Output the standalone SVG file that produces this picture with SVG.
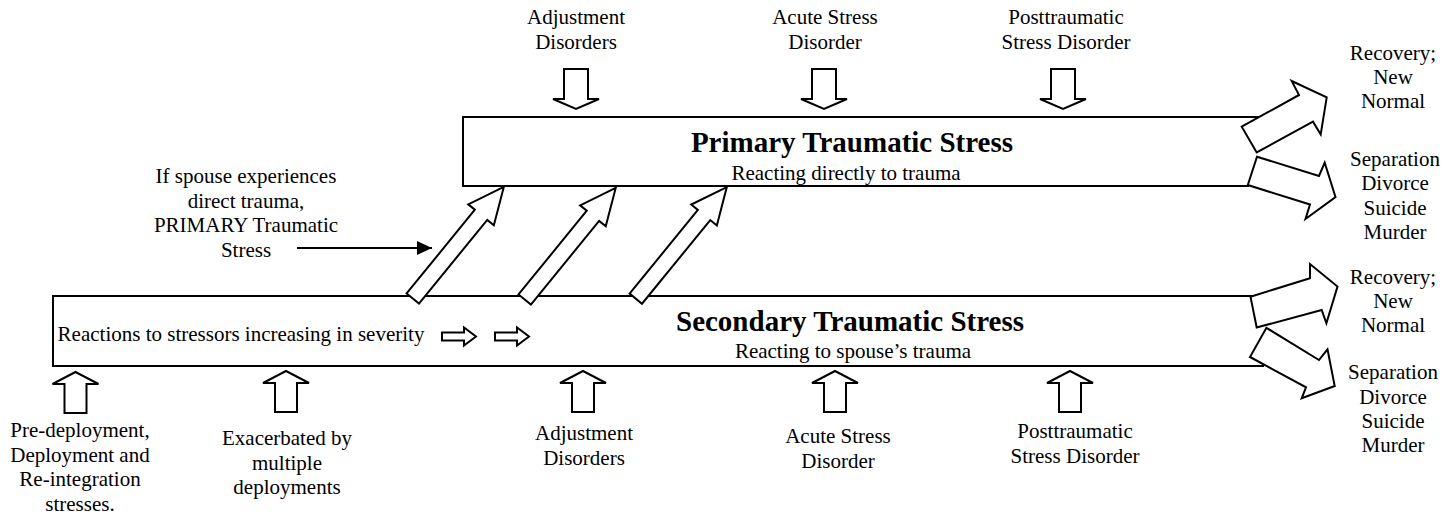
<svg xmlns="http://www.w3.org/2000/svg" width="1456" height="521" viewBox="0 0 1456 521">
<style>
text{font-family:"Liberation Serif","Times New Roman",serif;font-size:21px;fill:#000;text-anchor:middle}
.title{font-size:29px;font-weight:bold}
.box{fill:none;stroke:#000;stroke-width:2}
.blk{fill:#fff;stroke:#000;stroke-width:2;stroke-linejoin:miter}
.ln{stroke:#000;stroke-width:2;fill:none}
</style>
<defs>
<marker id="tri" markerWidth="15" markerHeight="14" refX="15" refY="7" orient="auto" markerUnits="userSpaceOnUse" viewBox="0 0 15 14">
<path d="M0,0 L15,7 L0,14 Z" fill="#000"/>
</marker>
<polygon id="diag" points="0,-8 108,-8 108,-16.5 144,0 108,16.5 108,8 0,8"/>
<polygon id="down" points="-12,0 12,0 12,30 23,30 0,40 -23,30 -12,30"/>
<polygon id="up" points="0,0 23,12 11,12 11,41 -11,41 -11,12 -23,12"/>
<polygon id="small" points="0,-4 22,-4 22,-9 34,0 22,9 22,4 0,4"/>
</defs>

<g id="primary-box">
<path class="box" d="M1260,117 H463 V186 H1249"/>
<text class="title" x="852" y="152">Primary Traumatic Stress</text>
<text x="846" y="180">Reacting directly to trauma</text>
</g>

<g id="secondary-box">
<path class="box" d="M1252,296 H53 V366 H1264"/>
<text class="title" x="850" y="331">Secondary Traumatic Stress</text>
<text x="853" y="358">Reacting to spouse’s trauma</text>
<text x="241" y="341">Reactions to stressors increasing in severity</text>
</g>

<g id="top-adjustment"><text x="576" y="24">Adjustment</text><text x="576" y="48.5">Disorders</text></g>
<g id="top-acute"><text x="825" y="24">Acute Stress</text><text x="825" y="48.5">Disorder</text></g>
<g id="top-ptsd"><text x="1066" y="24">Posttraumatic</text><text x="1066" y="48.5">Stress Disorder</text></g>

<g id="spouse-note">
<text x="246" y="183">If spouse experiences</text>
<text x="246" y="207.5">direct trauma,</text>
<text x="246" y="232">PRIMARY Traumatic</text>
<text x="246" y="256.5">Stress</text>
</g>

<g id="bottom-predeploy">
<text x="80" y="437">Pre-deployment,</text>
<text x="80" y="461.5">Deployment and</text>
<text x="80" y="486">Re-integration</text>
<text x="80" y="510.5">stresses.</text>
</g>
<g id="bottom-exacerbated">
<text x="287" y="445">Exacerbated by</text>
<text x="287" y="469.5">multiple</text>
<text x="287" y="494">deployments</text>
</g>
<g id="bottom-adjustment"><text x="584" y="440">Adjustment</text><text x="584" y="465">Disorders</text></g>
<g id="bottom-acute"><text x="838" y="443">Acute Stress</text><text x="838" y="467.5">Disorder</text></g>
<g id="bottom-ptsd"><text x="1075" y="438">Posttraumatic</text><text x="1075" y="463">Stress Disorder</text></g>

<g id="outcome-primary-recovery"><text x="1393" y="60">Recovery;</text><text x="1393" y="84">New</text><text x="1393" y="108">Normal</text></g>
<g id="outcome-primary-separation"><text x="1395" y="165.5">Separation</text><text x="1395" y="190">Divorce</text><text x="1395" y="214.5">Suicide</text><text x="1395" y="239">Murder</text></g>
<g id="outcome-secondary-recovery"><text x="1393" y="284">Recovery;</text><text x="1393" y="308">New</text><text x="1393" y="332">Normal</text></g>
<g id="outcome-secondary-separation"><text x="1393" y="379">Separation</text><text x="1393" y="403.5">Divorce</text><text x="1393" y="428">Suicide</text><text x="1393" y="452">Murder</text></g>

<g id="connectors">
<use href="#down" class="blk" x="576" y="69"/>
<use href="#down" class="blk" x="824" y="69"/>
<use href="#down" class="blk" x="1063" y="69"/>

<use href="#diag" class="blk" transform="translate(412.8,298.5) rotate(-50.8)"/>
<use href="#diag" class="blk" transform="translate(524.7,299.5) rotate(-50.8)"/>
<use href="#diag" class="blk" transform="translate(635.8,298.7) rotate(-50.8)"/>

<line class="ln" x1="297" y1="248" x2="432" y2="248" marker-end="url(#tri)"/>

<use href="#small" class="blk" x="442" y="336.5"/>
<use href="#small" class="blk" x="495" y="336.5"/>

<use href="#up" class="blk" x="75.5" y="372"/>
<use href="#up" class="blk" x="286" y="371"/>
<use href="#up" class="blk" x="583" y="371"/>
<use href="#up" class="blk" x="835" y="371"/>
<use href="#up" class="blk" x="1070" y="371"/>

<polygon class="blk" points="1241.7,126.7 1299,95 1291.7,81 1326.7,97.3 1320.7,134.5 1313,121.7 1256.7,152.5"/>
<polygon class="blk" points="1257,156.7 1319,176 1324.7,162.7 1335.5,197 1305.5,219 1310,204.5 1247.8,185"/>
<polygon class="blk" points="1250.5,296.7 1310,278.3 1310,264 1337.5,286.5 1326.4,323.3 1321.7,310 1256.7,327.5"/>
<polygon class="blk" points="1266.4,327.8 1319,360 1327.5,349.3 1334.7,386 1301.7,398.3 1306,387.3 1250,357"/>
</g>
</svg>
